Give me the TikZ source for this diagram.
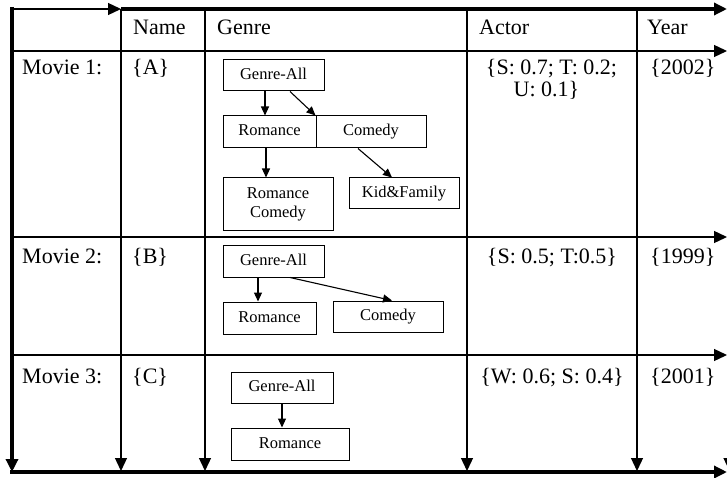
\documentclass[tikz,border=0pt]{standalone}
\usepackage{fontspec}
\setmainfont{Liberation Serif}
\usetikzlibrary{arrows.meta}
\begin{document}
\begin{tikzpicture}[x=1pt,y=-1pt,
  thinrule/.style={line width=1.3pt},
  thickrule/.style={line width=4pt},
  rulearrow/.style={-{Triangle[width=12pt,length=13pt]}},
  celltext/.style={inner sep=0pt,anchor=base west,font=\fontsize{22}{22}\selectfont},
  centertext/.style={inner sep=0pt,anchor=base,font=\fontsize{22}{22}\selectfont},
  gbox/.style={draw,line width=1pt,inner sep=0pt,align=center,
    font=\fontsize{16.5}{19}\selectfont},
  gone/.style={gbox,text height=11.5pt,text depth=3.5pt},
  garrow/.style={line width=1.1pt,-{Triangle[width=8pt,length=9pt]}}]
\useasboundingbox (0,0) rectangle (727,478);
\clip (0,0) rectangle (727,478);

% table frame corners and rule ends
\coordinate (lefttop) at (12,7);
\coordinate (leftbot) at (12,472);
\coordinate (topL) at (12,9);
\coordinate (topM) at (121,9);
\coordinate (topR) at (727,9);
\coordinate (botL) at (10,472);
\coordinate (botR) at (727,472);

% thin column rules, each ending in an arrow at the bottom
\foreach \x/\n in {121/name,205/genre,467/actor,637/year,729.5/edge}{
  \coordinate (\n top) at (\x,9);
  \coordinate (\n bot) at (\x,471);
  \draw[thinrule,rulearrow] (\n top) -- (\n bot);
}
% thin row rules, each ending in an arrow at the right
\foreach \y/\n in {51/head,237/rowA,355/rowB}{
  \coordinate (\n L) at (12,\y);
  \coordinate (\n R) at (727,\y);
  \draw[thinrule,rulearrow] (\n L) -- (\n R);
}
% outer frame
\draw[thinrule,rulearrow] (topL) -- (topM);
\draw[thickrule,rulearrow] (topM) -- (topR);
\draw[thickrule,rulearrow] (lefttop) -- (leftbot);
\draw[thickrule,rulearrow] (botL) -- (botR);

% header
\node[celltext] (hname) at (133,35) {Name};
\node[celltext] (hgenre) at (217,35) {Genre};
\node[celltext] (hactor) at (479,35) {Actor};
\node[celltext] (hyear) at (647,35) {Year};

% row 1
\node[celltext] (m1) at (22,75) {Movie 1:};
\node[celltext] (n1) at (132,75) {\{A\}};
\node[centertext] (a1) at (551.5,75) {\{S: 0.7; T: 0.2;};
\node[centertext] (a1b) at (546.5,97) {U: 0.1\}};
\node[celltext] (y1) at (650,75) {\{2002\}};

% row 2
\node[celltext] (m2) at (22,263) {Movie 2:};
\node[celltext] (n2) at (132,263) {\{B\}};
\node[centertext] (a2) at (552,263) {\{S: 0.5; T:0.5\}};
\node[celltext] (y2) at (650,263) {\{1999\}};

% row 3
\node[celltext] (m3) at (22,383) {Movie 3:};
\node[celltext] (n3) at (132,383) {\{C\}};
\node[centertext] (a3) at (552,383) {\{W: 0.6; S: 0.4\}};
\node[celltext] (y3) at (650,383) {\{2001\}};

% genre hierarchy, movie 1
\node[gone,minimum width=101pt,minimum height=31pt] (ga1) at (273.5,75.5) {Genre-All};
\node[gone,minimum width=93pt,minimum height=32pt] (ro1) at (269.5,132) {Romance};
\node[gone,minimum width=110pt,minimum height=32pt] (co1) at (371,132) {Comedy};
\node[gbox,minimum width=110pt,minimum height=52pt] (rc1) at (278,204) {Romance\\Comedy};
\node[gone,minimum width=110pt,minimum height=31pt] (kf1) at (404,193.5) {Kid\&Family};
\draw[garrow] (265,0 |- ga1.south) -- (265,0 |- ro1.north);
\draw[garrow] (290,0 |- ga1.south) -- (co1.north west);
\draw[garrow] (266,0 |- ro1.south) -- (266,0 |- rc1.north);
\draw[garrow] (358,0 |- co1.south) -- (392,0 |- kf1.north);

% genre hierarchy, movie 2
\node[gone,minimum width=101pt,minimum height=32pt] (ga2) at (273.5,261) {Genre-All};
\node[gone,minimum width=93pt,minimum height=32pt] (ro2) at (269.5,318) {Romance};
\node[gone,minimum width=110pt,minimum height=31pt] (co2) at (388,316.5) {Comedy};
\draw[garrow] (258,0 |- ga2.south) -- (258,0 |- ro2.north);
\draw[garrow] (290,0 |- ga2.south) -- (392,0 |- co2.north);

% genre hierarchy, movie 3
\node[gone,minimum width=102pt,minimum height=31pt] (ga3) at (282,387.5) {Genre-All};
\node[gone,minimum width=118pt,minimum height=32pt] (ro3) at (290,444) {Romance};
\draw[garrow] (282,0 |- ga3.south) -- (282,0 |- ro3.north);
\end{tikzpicture}
\end{document}
